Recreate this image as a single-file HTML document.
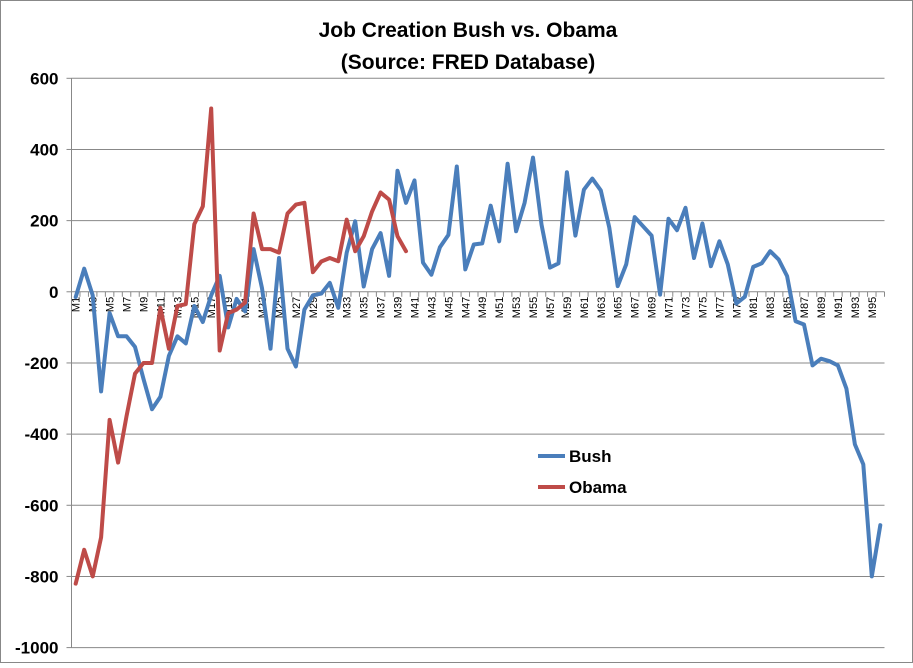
<!DOCTYPE html>
<html><head><meta charset="utf-8"><style>
body{margin:0;background:#fff;}
svg text{font-family:"Liberation Sans",Arial,sans-serif;}
</style></head><body>
<svg id="chart" width="913" height="663" viewBox="0 0 913 663" xmlns="http://www.w3.org/2000/svg">
<rect x="0.5" y="0.5" width="912" height="662" fill="#fff" stroke="#888"/>
<text x="468" y="37" text-anchor="middle" font-size="21" font-weight="bold">Job Creation Bush vs. Obama</text>
<text x="468" y="69" text-anchor="middle" font-size="21" font-weight="bold">(Source: FRED Database)</text>
<g id="grid"></g><g id="axes"></g><g id="series"></g>
<g>
<line x1="538" y1="456" x2="565" y2="456" stroke="#4a7ebb" stroke-width="4"/>
<text x="569" y="462" font-size="17" font-weight="bold">Bush</text>
<line x1="538" y1="487" x2="565" y2="487" stroke="#be4b48" stroke-width="4"/>
<text x="569" y="493" font-size="17" font-weight="bold">Obama</text>
</g>
</svg>
<script>
const yTicks=[600,400,200,0,-200,-400,-600,-800,-1000];
const bush=[-15,65,-10,-280,-60,-125,-125,-155,-245,-330,-295,-180,-125,-145,-40,-85,-10,45,-100,-20,-55,120,10,-160,95,-160,-210,-50,-10,-5,25,-45,110,198,15,120,165,45,340,250,313,82,48,125,160,352,63,133,136,242,142,360,170,250,377,189,68,80,336,158,287,318,285,180,16,77,210,184,158,-8,205,173,236,95,192,72,142,77,-33,-14,70,80,114,91,44,-83,-92,-207,-188,-195,-207,-272,-429,-485,-800,-656];
const obama=[-820,-725,-800,-690,-360,-480,-350,-230,-200,-200,-45,-160,-40,-35,190,240,515,-165,-60,-50,-30,220,120,120,110,220,245,250,55,85,95,86,203,114,156,226,279,259,156,114];
const categories=bush.map((_,i)=>'M'+(i+1));
const NS='http://www.w3.org/2000/svg';
const L=71.5,R=884.5,T=78.3,B=647.6,yMin=-1000,yMax=600;
const n=categories.length,step=(R-L)/n;
const xs=i=>L+(i+0.5)*step;
const ys=v=>T+(yMax-v)/(yMax-yMin)*(B-T);
function mk(tag,attrs,parent){const e=document.createElementNS(NS,tag);for(const k in attrs)e.setAttribute(k,attrs[k]);parent.appendChild(e);return e;}
const grid=document.getElementById('grid'),axes=document.getElementById('axes'),series=document.getElementById('series');
yTicks.forEach(v=>{
 const y=ys(v);
 if(v!==0){const g=mk('line',{x1:L,x2:R,y1:y,y2:y,stroke:'#888','stroke-width':1},grid);
 
 }
 const tk=mk('line',{x1:L-5,x2:L,y1:y,y2:y,stroke:'#888'},axes);
 
 
 const t=mk('text',{x:L-13,y:y+6,'text-anchor':'end','font-size':17,'font-weight':'bold'},axes);
 t.textContent=v;
 
 
});
const ya=mk('line',{x1:L,x2:L,y1:T,y2:B,stroke:'#888'},axes);


const y0=ys(0);
const xa=mk('line',{x1:L,x2:R,y1:y0,y2:y0,stroke:'#888'},axes);


for(let i=0;i<=n;i++){const x=L+i*step;const tk=mk('line',{x1:x,x2:x,y1:y0,y2:y0+5,stroke:'#888'},axes);
 
 }
categories.forEach((c,i)=>{if(i%2)return;const x=xs(i)+4;
 const t=mk('text',{x:x,y:y0+5,'text-anchor':'end','font-size':11,transform:`rotate(-90 ${x} ${y0+5})`},axes);
 t.textContent=c;
 
 });
function line(data,color,name){
 const d=data.map((v,i)=>(i?'L':'M')+xs(i).toFixed(1)+' '+ys(v).toFixed(1)).join(' ');
 const p=mk('path',{d:d,fill:'none',stroke:color,'stroke-width':4,'stroke-linejoin':'round','stroke-linecap':'round'},series);
 
 
}
line(bush,'#4a7ebb','bush-line');
line(obama,'#be4b48','obama-line');
</script>
</body></html>
